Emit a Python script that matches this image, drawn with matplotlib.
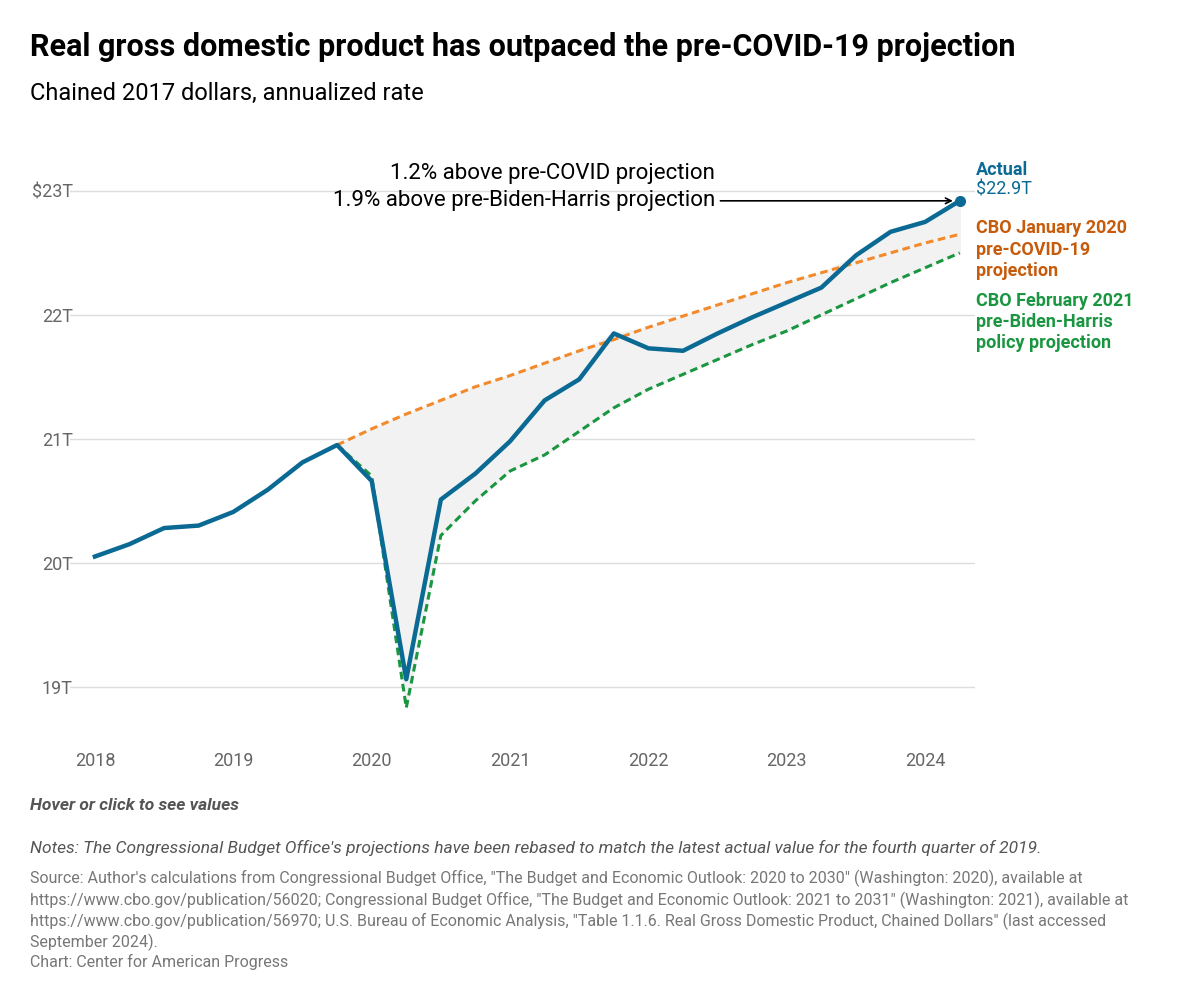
import matplotlib
matplotlib.use("Agg")
import matplotlib.pyplot as plt
import numpy as np

plt.rcParams["font.family"] = ["Roboto", "DejaVu Sans"]

quarters = np.arange(2018, 2024.3, 0.25)
actual = [20.05, 20.15, 20.28, 20.30, 20.41, 20.59, 20.81, 20.95,
          20.66, 19.06, 20.51, 20.72, 20.98, 21.31, 21.48, 21.85,
          21.73, 21.71, 21.85, 21.98, 22.10, 22.22, 22.48, 22.67,
          22.75, 22.92]
proj_q = quarters[7:]
cbo_2020 = [20.95, 21.08, 21.20, 21.31, 21.42, 21.51, 21.61, 21.71, 21.80,
            21.90, 21.99, 22.08, 22.17, 22.26, 22.34, 22.42, 22.50, 22.58, 22.65]
cbo_2021 = [20.95, 20.70, 18.83, 20.22, 20.50, 20.74, 20.87, 21.06, 21.25,
            21.40, 21.52, 21.64, 21.76, 21.87, 22.00, 22.13, 22.26, 22.38, 22.50]

BLUE, ORANGE, GREEN = "#0a6a94", "#f28a2b", "#1a9641"

fig = plt.figure(figsize=(12, 10.02), dpi=100)
ax = fig.add_axes([70 / 1200, 1 - 740 / 1002, 905 / 1200, 590 / 1002])

act_tail = np.array(actual[7:])
lo = np.minimum.reduce([act_tail, cbo_2020, cbo_2021])
hi = np.maximum.reduce([act_tail, cbo_2020, cbo_2021])
ax.fill_between(proj_q, lo, hi, color="#f2f2f2", zorder=1)
ax.plot(proj_q, cbo_2020, color=ORANGE, lw=2.2, ls=(0, (2.5, 1.5)), zorder=2)
ax.plot(proj_q, cbo_2021, color=GREEN, lw=2.2, ls=(0, (2.5, 1.5)), zorder=2)
ax.plot(quarters, actual, color=BLUE, lw=3.2, zorder=3)
ax.plot(quarters[-1], actual[-1], "o", color=BLUE, ms=7, zorder=4)

ax.set_xlim(2017.82, 2024.36)
ax.set_ylim(18.57, 23.33)
ax.set_yticks([19, 20, 21, 22, 23])
ax.set_yticklabels(["19T", "20T", "21T", "22T", "$23T"])
ax.set_xticks(range(2018, 2025))
ax.tick_params(length=0, labelsize=13, colors="#666666", pad=9)
ax.tick_params(axis="y", pad=-2)
for lab in ax.get_yticklabels():
    lab.set_horizontalalignment("right")
ax.grid(axis="y", color="#dddddd", lw=1)
ax.set_axisbelow(True)
for s in ax.spines.values():
    s.set_visible(False)

ax.annotate("", xy=(quarters[-1] - 0.03, actual[-1]), xytext=(2022.5, actual[-1]),
            arrowprops=dict(arrowstyle="->", color="black", lw=1.2))
ax.text(2022.48, 23.03, "1.2% above pre-COVID projection\n1.9% above pre-Biden-Harris projection",
        ha="right", va="center", fontsize=16, linespacing=1.35)

fig.text(976 / 1200, 1 - 170 / 1002, "Actual", color=BLUE, fontsize=13, fontweight="bold", va="center")
fig.text(976 / 1200, 1 - 189 / 1002, "$22.9T", color=BLUE, fontsize=13, va="center")
fig.text(976 / 1200, 1 - 250 / 1002, "CBO January 2020\npre-COVID-19\nprojection", color="#c75b0c",
         fontsize=13, fontweight="bold", va="center", linespacing=1.25)
fig.text(976 / 1200, 1 - 322 / 1002, "CBO February 2021\npre-Biden-Harris\npolicy projection", color=GREEN,
         fontsize=13, fontweight="bold", va="center", linespacing=1.25)

fig.text(30 / 1200, 1 - 47 / 1002, "Real gross domestic product has outpaced the pre-COVID-19 projection",
         fontsize=22, fontweight="bold", va="center")
fig.text(30 / 1200, 1 - 93 / 1002, "Chained 2017 dollars, annualized rate", fontsize=17, va="center")
fig.text(30 / 1200, 1 - 806 / 1002, "Hover or click to see values", fontsize=12.5, style="italic",
         fontweight="bold", color="#555555", va="center")
fig.text(30 / 1200, 1 - 848 / 1002,
         "Notes: The Congressional Budget Office's projections have been rebased to match the latest actual value for the fourth quarter of 2019.",
         fontsize=12.5, style="italic", color="#555555", va="center")
fig.text(30 / 1200, 1 - 870 / 1002,
         "Source: Author's calculations from Congressional Budget Office, \"The Budget and Economic Outlook: 2020 to 2030\" (Washington: 2020), available at\n"
         "https://www.cbo.gov/publication/56020; Congressional Budget Office, \"The Budget and Economic Outlook: 2021 to 2031\" (Washington: 2021), available at\n"
         "https://www.cbo.gov/publication/56970; U.S. Bureau of Economic Analysis, \"Table 1.1.6. Real Gross Domestic Product, Chained Dollars\" (last accessed\n"
         "September 2024).",
         fontsize=11.5, color="#777777", va="top", linespacing=1.3)
fig.text(30 / 1200, 1 - 962 / 1002, "Chart: Center for American Progress", fontsize=11.5, color="#777777", va="center")

fig.savefig("out.png", dpi=100, facecolor="white")
